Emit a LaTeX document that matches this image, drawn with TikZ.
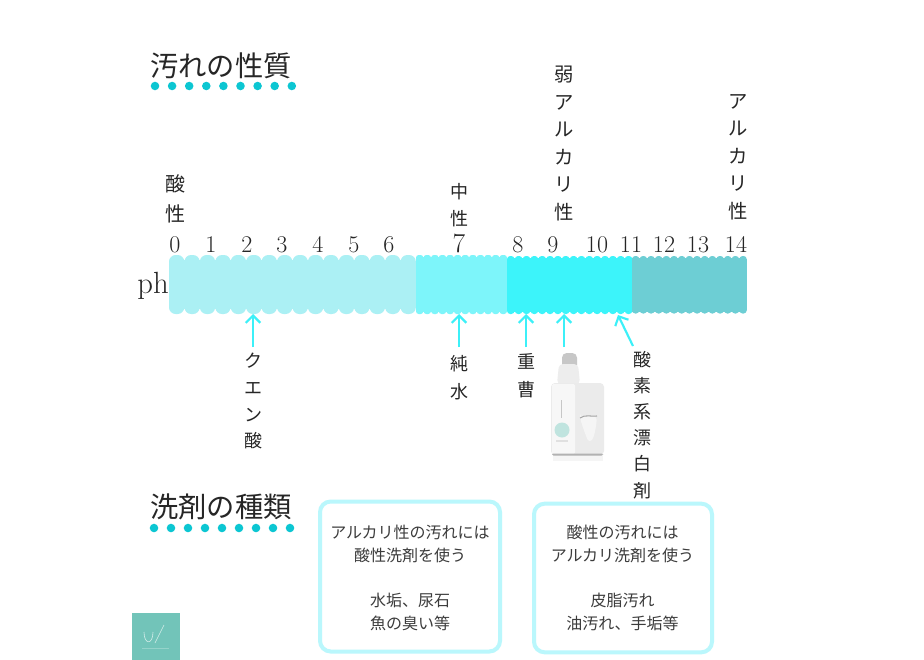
\documentclass[tikz,border=0pt]{standalone}
\usepackage{fontspec}
\usetikzlibrary{arrows.meta}
\newfontfamily\jp{Noto Sans CJK JP}
\definecolor{inkc}{HTML}{262626}
\definecolor{boxtext}{HTML}{3C3C3C}
\definecolor{dotc}{HTML}{0CC6D2}
\definecolor{segA}{HTML}{ABF0F4}
\definecolor{segB}{HTML}{7DF5FA}
\definecolor{segC}{HTML}{3CF4FA}
\definecolor{segD}{HTML}{6DCED4}
\definecolor{arrowc}{HTML}{3CF0F8}
\definecolor{framec}{HTML}{BAF7FC}
\definecolor{logoc}{HTML}{72C4B9}
\tikzset{
  x=0.75pt,y=-0.75pt,
  title/.style={font=\jp\fontsize{21.2}{25}\selectfont,text=inkc,inner sep=0pt},
  vlabel/.style={font=\jp\fontsize{14.5}{20.6}\selectfont,text=inkc,align=center,inner sep=0pt,anchor=north},
  vsmall/.style={font=\jp\fontsize{13.5}{20}\selectfont,text=inkc,align=center,inner sep=0pt,anchor=north},
  num/.style={font=\fontsize{18}{20}\selectfont,text=inkc,inner sep=0pt},
  arrowline/.style={draw=arrowc,line width=1.6pt,-{Straight Barb[length=5.5pt,width=11pt]}},
  notebox/.style={draw=framec,line width=3pt,rounded corners=8pt,inner sep=0pt},
  notetext/.style={align=center,inner sep=0pt,font=\jp\fontsize{12}{17}\selectfont,text=boxtext},
  dotmark/.style={circle,fill=dotc,minimum size=6.4pt,inner sep=0pt},
}
\begin{document}
\begin{tikzpicture}
\fill[white] (0,0) rectangle (924,660);
\useasboundingbox (0,0) rectangle (924,660);

% titles
\node[title,anchor=center] (t1) at (221,66) {汚れの性質};
\foreach \i in {0,...,8} \node[dotmark] (da\i) at ({155+\i*17.1},86) {};
\node[title,anchor=center] (t2) at (221,507) {洗剤の種類};
\foreach \i in {0,...,8} \node[dotmark] (db\i) at ({154+\i*17},528) {};

% scale bar
\fill[segA] (175,260) rectangle (410,309);
\foreach \i in {0,...,15} \fill[segA,rounded corners=5pt] ({169+\i*15.44},255) rectangle ({169+(\i+1)*15.44-0.2},314);
\fill[segB] (416,257) rectangle (507,312);
\foreach \i in {0,...,11} \fill[segB,rounded corners=2pt] ({416+\i*7.6},255) rectangle ({416+(\i+1)*7.6-0.3},314);
\fill[segC] (509,258) rectangle (632,312);
\foreach \i in {0,...,15} \fill[segC,rounded corners=2.4pt] ({507+\i*7.85},256) rectangle ({507+(\i+1)*7.85-0.3},314);
\fill[segD] (632,258) rectangle (745,312);
\foreach \i in {0,...,14} \fill[segD,rounded corners=2.4pt] ({632+\i*7.67},256) rectangle ({632+(\i+1)*7.67-0.3},313.5);

\node[num,anchor=east,font=\fontsize{23}{26}\selectfont] (ph) at (169,286) {ph};
\foreach \n/\x in {0/175,1/211,2/247,3/282,4/318,5/354,6/389,8/518,9/553,10/597,11/631,12/664,13/698,14/736}
  \node[num] (n\n) at (\x,244.5) {\n};
\node[num,font=\fontsize{20.5}{24}\selectfont] (n7) at (459,243) {7};

% upper labels
\node[vlabel,font=\jp\fontsize{15}{22.5}\selectfont] (acid) at (175,174) {酸\\性};
\node[vsmall] (neutral) at (459,183) {中\\性};
\node[vlabel] (weak) at (564,66) {弱\\ア\\ル\\カ\\リ\\性};
\node[vlabel] (alk) at (738,94) {ア\\ル\\カ\\リ\\性};

% lower labels
\node[vsmall] (citric) at (253,353) {ク\\エ\\ン\\酸};
\node[vsmall,font=\jp\fontsize{13.5}{21}\selectfont] (water) at (459,355) {純\\水};
\node[vsmall,font=\jp\fontsize{13.5}{21}\selectfont] (soda) at (526,353) {重\\曹};
\node[vsmall,font=\jp\fontsize{13.5}{19.6}\selectfont] (oxy) at (642,351) {酸\\素\\系\\漂\\白\\剤};

% arrows
\coordinate (p2) at (253,314);
\coordinate (p7) at (459,314);
\coordinate (p8) at (526,314);
\coordinate (p9) at (564,314);
\coordinate (p11) at (618,315);
\coordinate (s2) at (253,347);
\coordinate (s7) at (459,347);
\coordinate (s8) at (526,347);
\coordinate (s9) at (564,347);
\coordinate (s11) at (633,346);
\draw[arrowline] (s2) -- (p2);
\draw[arrowline] (s7) -- (p7);
\draw[arrowline] (s8) -- (p8);
\draw[arrowline] (s9) -- (p9);
\draw[arrowline] (s11) -- (p11);

% bottle
\fill[black!4] (553,455) rectangle (603,461);
\fill[black!22,rounded corners=3.5pt] (562,353) rectangle (577,370);
\fill[black!7,rounded corners=3pt] (559,364) -- (578,364) -- (580,384) -- (557,384) -- cycle;
\fill[black!8,rounded corners=3pt] (551,383) rectangle (604,455);
\fill[black!3,rounded corners=1pt] (552,384) rectangle (575,454);
\fill[black!30,rounded corners=1pt] (552,453.5) rectangle (603,455.5);
\fill[black!4,rounded corners=3pt] (580,418) .. controls (585,414) and (592,417) .. (597,416) .. controls (596,428) and (594,438) .. (589,443) .. controls (586,436) and (583,428) .. (580,418) -- cycle;
\draw[black!35,line width=0.8pt] (580,418) .. controls (585,414) and (592,417) .. (597,416);
\fill[logoc!45] (562,430) circle (7.5);
\draw[black!22,line width=0.6pt] (561,400) -- (561,418);
\draw[black!12,line width=1.2pt] (556,441) -- (568,441);

% note boxes
\node[notebox,minimum width=135pt,minimum height=112.5pt] (boxL) at (410,576.5) {};
\node[notetext] (textL) at (410,578)
  {アルカリ性の汚れには\\酸性洗剤を使う\\ \\水垢、尿石\\魚の臭い等};
\node[notebox,minimum width=133.5pt,minimum height=111.5pt] (boxR) at (623,578) {};
\node[notetext] (textR) at (622.5,578)
  {酸性の汚れには\\アルカリ洗剤を使う\\ \\皮脂汚れ\\油汚れ、手垢等};

% logo
\fill[logoc] (132,613) rectangle (180,660);
\draw[white!70!logoc,line width=0.45pt] (144,632) .. controls (144,645) and (153,645) .. (153,632);
\draw[white!70!logoc,line width=0.45pt] (155,643) -- (164,625);
\draw[white!25!logoc,line width=0.7pt] (142,648) -- (169,648);
\end{tikzpicture}
\end{document}
